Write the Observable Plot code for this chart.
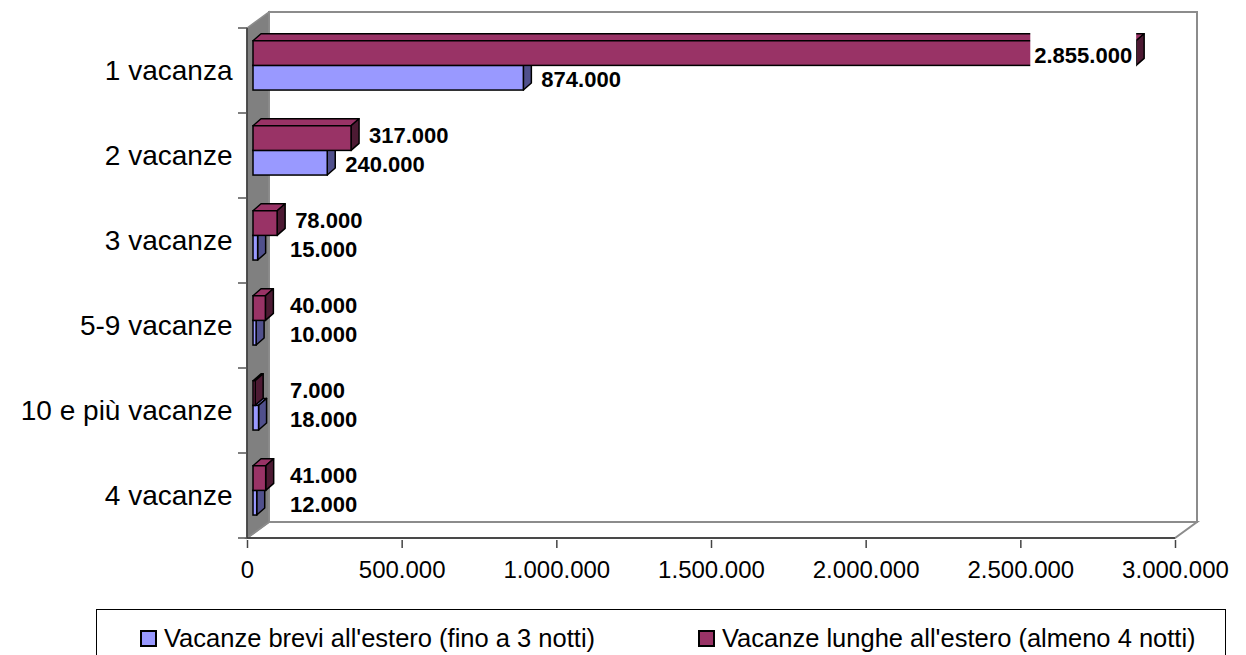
<!DOCTYPE html>
<html><head><meta charset="utf-8">
<script src="https://cdn.jsdelivr.net/npm/d3@7"></script>
<script src="https://cdn.jsdelivr.net/npm/@observablehq/plot@0.6"></script>
<style>
body{margin:0;background:#fff;font-family:"Liberation Sans",Arial,sans-serif;}
#wrap{position:relative;width:1246px;height:655px;overflow:hidden}
#legend{position:absolute;left:96px;top:609px;width:1130px;height:70px;border:1.5px solid #000;box-sizing:border-box;font-size:25.5px;color:#000}
.item{position:absolute;top:14px;display:flex;align-items:center;white-space:nowrap}
.sw{width:13px;height:13px;border:2px solid #000;margin-right:7px}
</style></head><body><div id="wrap"><div id="chart"></div><div id="legend"></div></div>
<script>
const categories = ["1 vacanza","2 vacanze","3 vacanze","5-9 vacanze","10 e più vacanze","4 vacanze"];
const brevi = [874000,240000,15000,10000,18000,12000];
const lunghe = [2855000,317000,78000,40000,7000,41000];
const xTicks = [0,500000,1000000,1500000,2000000,2500000,3000000];
const seriesNames = ["Vacanze brevi all'estero (fino a 3 notti)","Vacanze lunghe all'estero (almeno 4 notti)"];
const seriesColors = ["#9999FF","#993366"];
const seriesSide = ["#50508c","#4d1a33"];

const fmt = d3.formatLocale({decimal:",",thousands:".",grouping:[3],currency:["€",""]}).format(",d");

const rows = [];
[brevi, lunghe].forEach((vals, s) => vals.forEach((v, i) => rows.push({category: categories[i], series: s, value: v})));

function scene(index, scales) {
  const x = scales.x, y = scales.y;
  const g = d3.create("svg:g");
  const x0 = x(0), x3 = x(3000000);
  const yTop = y(categories[0]);
  const bw = y(categories[1]) - y(categories[0]);
  const yBot = yTop + bw * categories.length;
  const W = 22, H = 16;
  // back panel
  g.append("rect").attr("x", x0 + W).attr("y", yTop - H).attr("width", x3 - x0).attr("height", yBot - yTop)
    .attr("fill", "#fff").attr("stroke", "#8c8c8c").attr("stroke-width", 2);
  // floor
  g.append("path").attr("d", `M${x0},${yBot}L${x0+W},${yBot-H}L${x3+W},${yBot-H}L${x3},${yBot}Z`)
    .attr("fill", "#fff").attr("stroke", "#8c8c8c").attr("stroke-width", 2);
  // left wall
  g.append("path").attr("d", `M${x0},${yTop}L${x0+W},${yTop-H}L${x0+W},${yBot-H}L${x0},${yBot}Z`)
    .attr("fill", "#808080").attr("stroke", "#8c8c8c").attr("stroke-width", 1.5);
  // axis lines
  g.append("line").attr("x1", x0).attr("x2", x0).attr("y1", yTop).attr("y2", yBot).attr("stroke", "#333").attr("stroke-width", 1.5);
  g.append("line").attr("x1", x0).attr("x2", x3).attr("y1", yBot).attr("y2", yBot).attr("stroke", "#333").attr("stroke-width", 1.5);
  for (let i = 0; i <= categories.length; i++) {
    g.append("line").attr("x1", x0 - 9).attr("x2", x0).attr("y1", yTop + i * bw).attr("y2", yTop + i * bw)
      .attr("stroke", "#555").attr("stroke-width", 1.5);
  }
  // bars
  const bdx = 6, dX = 8, dY = -7;
  const bh = 0.29 * bw;
  const labels = [];
  for (const s of [0, 1]) {
    const vals = s === 0 ? brevi : lunghe;
    vals.forEach((v, i) => {
      const band = y(categories[i]);
      const by0 = band + 0.15 * bw + (s === 0 ? bh : 0);
      const by1 = by0 + bh;
      const bx0 = x0 + bdx, bx1 = x(v) + bdx;
      const col = seriesColors[s], side = seriesSide[s];
      g.append("path").attr("d", `M${bx0},${by0}L${bx0+dX},${by0+dY}L${bx1+dX},${by0+dY}L${bx1},${by0}Z`)
        .attr("fill", col).attr("stroke", "#000").attr("stroke-width", 1.5).attr("stroke-linejoin", "round");
      g.append("path").attr("d", `M${bx1},${by0}L${bx1+dX},${by0+dY}L${bx1+dX},${by1+dY}L${bx1},${by1}Z`)
        .attr("fill", side).attr("stroke", "#000").attr("stroke-width", 1.5).attr("stroke-linejoin", "round");
      g.append("rect").attr("x", bx0).attr("y", by0).attr("width", bx1 - bx0).attr("height", by1 - by0)
        .attr("fill", col).attr("stroke", "#000").attr("stroke-width", 1.5);
      const txt = fmt(v);
      const tw = txt.replace(/\./g, "").length * 0.556 * 22 + (txt.split(".").length - 1) * 0.278 * 22;
      let lx = Math.max(bx1 + dX + 10, x0 + 43);
      const cy = band + (s === 1 ? 0.26 : 0.6) * bw;
      if (lx + tw > x3 + W - 4) {
        labels.push({txt, x: bx1 - 4, y: (by0 + by1) / 2 + 2, anchor: "end", bg: [bx1 - 8 - tw, by0 + dY - 1, tw + 8, bh - dY + 4]});
      } else {
        labels.push({txt, x: lx, y: cy, anchor: "start"});
      }
    });
  }
  for (const l of labels) {
    if (l.bg) g.append("rect").attr("x", l.bg[0]).attr("y", l.bg[1]).attr("width", l.bg[2]).attr("height", l.bg[3]).attr("fill", "#fff");
    g.append("text").attr("x", l.x).attr("y", l.y).attr("dy", "0.36em").attr("text-anchor", l.anchor)
      .attr("font-size", 22).attr("font-weight", "bold").attr("fill", "#000").text(l.txt);
  }
  return g.node();
}

const chart = Plot.plot({
  width: 1246, height: 600,
  marginLeft: 247, marginRight: 71, marginTop: 25, marginBottom: 60,
  style: {fontFamily: '"Liberation Sans", Arial, sans-serif', background: "#fff", color: "#000"},
  x: {type: "linear", domain: [0, 3000000]},
  y: {type: "band", domain: categories, padding: 0},
  marks: [
    Plot.barX(rows, {x: "value", y: "category", fill: "none"}),
    scene,
    Plot.axisX({ticks: xTicks, tickFormat: fmt, tickSize: 8, tickPadding: 12, fontSize: 24, label: null, stroke: "#444", strokeWidth: 1.5}),
    Plot.axisY({tickSize: 0, tickPadding: 15, fontSize: 28, label: null})
  ]
});
document.getElementById("chart").appendChild(chart);

const legend = document.getElementById("legend");
const lefts = [43, 601];
seriesNames.forEach((n, s) => {
  const it = document.createElement("div");
  it.className = "item"; it.style.left = lefts[s] + "px";
  const sw = document.createElement("span"); sw.className = "sw"; sw.style.background = seriesColors[s];
  const t = document.createElement("span"); t.textContent = n;
  it.appendChild(sw); it.appendChild(t); legend.appendChild(it);
});
</script></body></html>
